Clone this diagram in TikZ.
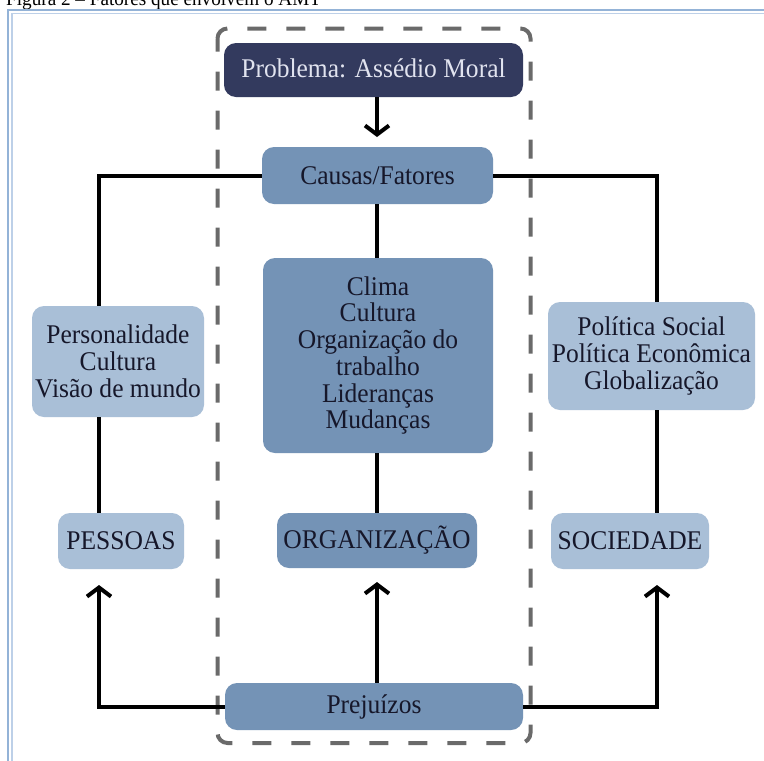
\documentclass[tikz,border=0pt]{standalone}
\usepackage{fontspec}
\setmainfont[FakeStretch=0.945]{Liberation Serif}
\usetikzlibrary{arrows.meta}

\definecolor{navy}{HTML}{333A5E}
\definecolor{navytext}{HTML}{E1E3EF}
\definecolor{midblue}{HTML}{7493B6}
\definecolor{lightblue}{HTML}{A9BFD7}
\definecolor{inktext}{HTML}{16172A}
\definecolor{frameouter}{HTML}{94B3D7}
\definecolor{frameinner}{HTML}{BDD0E8}
\definecolor{dashgray}{HTML}{6A6A6A}

\tikzset{
  box/.style={rectangle, rounded corners=12pt, inner sep=0pt, align=center,
    text=inktext, font=\fontsize{27}{26.7}\selectfont},
  darkbox/.style={box, fill=navy, text=navytext},
  midbox/.style={box, fill=midblue},
  lightbox/.style={box, fill=lightblue},
  link/.style={line width=4pt, black},
  uparrow/.style={link, -{Straight Barb[length=9pt,width=24pt]}},
}

\begin{document}
\begin{tikzpicture}[x=1pt, y=-1pt]
  \clip (0,0) rectangle (764,761);
  \fill[white] (0,0) rectangle (764,761);

  % caption above the frame
  \node[anchor=base west, inner sep=0pt, font=\fontsize{20.3}{21}\selectfont]
    (caption) at (6,5.5) {Figura 2 – Fatores que envolvem o AMT};

  % double frame line
  \draw[frameouter, line width=2pt] (8,770) -- (8,9.5) -- (770,9.5);
  \draw[frameinner, line width=1.8pt] (12,770) -- (12,13.5) -- (770,13.5);

  % dashed enclosure of the central column
  \draw[dashgray, line width=4pt, dash pattern=on 19pt off 20pt, dash phase=6pt,
        rounded corners=10pt] (217.5,28.5) rectangle (530.5,743);

  % boxes
  \node[darkbox, minimum width=299pt, minimum height=54pt] (prob) at (373.5,70)
    {\raisebox{3pt}{Problema: Assédio Moral}};
  \node[midbox, minimum width=231pt, minimum height=57pt] (causas) at (377.5,175.5)
    {Causas/Fatores};
  \node[midbox, minimum width=230pt, minimum height=195pt] (clima) at (378,355.5)
    {Clima\\Cultura\\Organização do\\trabalho\\Lideranças\\Mudanças};
  \node[lightbox, minimum width=172pt, minimum height=111pt] (pers) at (118,361.5)
    {Personalidade\\Cultura\\Visão de mundo};
  \node[lightbox, minimum width=207pt, minimum height=108pt] (pol) at (651.5,356)
    {Política Social\\Política Econômica\\Globalização};
  \node[lightbox, minimum width=126pt, minimum height=56pt] (pessoas) at (121,541)
    {PESSOAS};
  \node[midbox, minimum width=200pt, minimum height=55pt] (org) at (377,540.5)
    {ORGANIZAÇÃO};
  \node[lightbox, minimum width=158pt, minimum height=56pt] (soc) at (630,541)
    {SOCIEDADE};
  \node[midbox, minimum width=298pt, minimum height=47pt] (prej) at (374,706.5)
    {Prejuízos};

  % arrow tips
  \coordinate (downtip) at (377,137);
  \coordinate (tipL) at (99,585);
  \coordinate (tipM) at (377,582);
  \coordinate (tipR) at (657,585);

  % connectors
  \draw[link, -{Straight Barb[length=9pt,width=24pt]}] (prob.south -| downtip) -- (downtip);
  \draw[link] (causas.west) -- (99,175.5) -- (pers.north -| 99,0);
  \draw[link] (pers.south -| 99,0) -- (pessoas.north -| 99,0);
  \draw[link] (causas.east) -- (657,175.5) -- (pol.north -| 657,0);
  \draw[link] (pol.south -| 657,0) -- (soc.north -| 657,0);
  \draw[link] (causas.south -| 377,0) -- (clima.north -| 377,0);
  \draw[link] (clima.south -| 377,0) -- (org.north -| 377,0);
  \draw[uparrow] (prej.west) -- (99,706.5) -- (tipL);
  \draw[uparrow] (prej.east) -- (657,706.5) -- (tipR);
  \draw[uparrow] (prej.north -| tipM) -- (tipM);
\end{tikzpicture}
\end{document}
